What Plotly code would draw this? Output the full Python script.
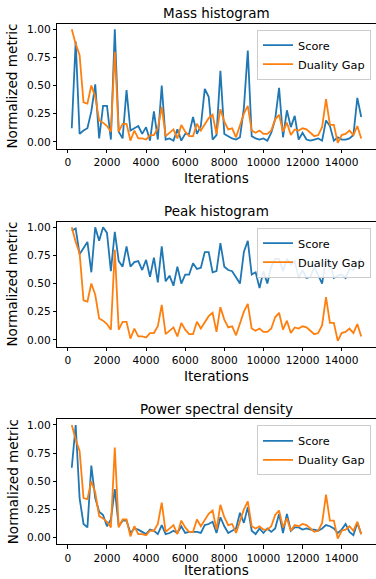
import plotly.graph_objects as go

# ---------------- data ----------------
iterations = list(range(200, 15001, 200))

duality_gap = [1.00, 0.87, 0.77, 0.35, 0.34, 0.50, 0.40, 0.19, 0.17, 0.14,
               0.09, 0.80, 0.09, 0.16, 0.16, 0.01, 0.10, 0.03, 0.03, 0.02,
               0.06, 0.06, 0.12, 0.31, 0.05, 0.08, 0.11, 0.03, 0.15, 0.09,
               0.05, 0.05, 0.16, 0.10, 0.16, 0.21, 0.24, 0.07, 0.29, 0.18,
               0.11, 0.12, 0.04, 0.15, 0.25, 0.32, 0.10, 0.08, 0.10, 0.07,
               0.07, 0.10, 0.20, 0.24, 0.09, 0.17, 0.06, 0.11, 0.10, 0.12,
               0.11, 0.08, 0.05, 0.06, 0.13, 0.38, 0.15, 0.15, -0.01, 0.06,
               0.07, 0.10, 0.06, 0.14, 0.03]

mass_score = [0.12, 0.89, 0.07, 0.10, 0.12, 0.27, 0.51, 0.03, 0.32, 0.32,
              0.02, 1.00, 0.09, 0.03, 0.46, 0.10, 0.12, 0.14, 0.07, 0.13,
              0.01, 0.27, 0.02, 0.50, 0.02, 0.03, 0.01, 0.11, 0.01, 0.07,
              0.07, 0.22, 0.07, 0.14, 0.47, 0.40, 0.02, 0.06, 0.63, 0.07,
              0.05, 0.03, 0.02, 0.04, 0.30, 0.81, 0.05, 0.03, 0.02, 0.03,
              0.01, 0.08, 0.20, 0.48, 0.04, 0.28, 0.13, 0.23, 0.02, 0.08,
              0.02, 0.01, 0.02, 0.03, 0.01, 0.19, 0.14, 0.01, 0.04, 0.02,
              0.02, 0.03, 0.06, 0.39, 0.22]

peak_score = [0.97, 0.99, 0.76, 0.82, 0.87, 0.60, 1.00, 0.88, 1.00, 0.95,
              0.61, 0.96, 0.70, 0.65, 0.83, 0.65, 0.69, 0.70, 0.62, 0.71,
              0.56, 0.73, 0.51, 0.83, 0.52, 0.57, 0.48, 0.65, 0.50, 0.58,
              0.58, 0.68, 0.63, 0.64, 0.78, 0.78, 0.60, 0.61, 0.86, 0.65,
              0.62, 0.61, 0.55, 0.50, 0.78, 0.88, 0.58, 0.60, 0.46, 0.61,
              0.50, 0.65, 0.72, 0.72, 0.61, 0.72, 0.67, 0.70, 0.55, 0.62,
              0.55, 0.56, 0.65, 0.57, 0.50, 0.72, 0.68, 0.55, 0.57, 0.58,
              0.55, 0.63, 0.62, 0.69, 0.72]

psd_score = [0.62, 1.00, 0.35, 0.12, 0.09, 0.64, 0.35, 0.23, 0.20, 0.10,
             0.16, 0.43, 0.10, 0.15, 0.15, 0.04, 0.08, 0.07, 0.05, 0.03,
             0.07, 0.06, 0.03, 0.11, 0.03, 0.04, 0.06, 0.04, 0.10, 0.04,
             0.05, 0.05, 0.05, 0.04, 0.11, 0.12, 0.14, 0.04, 0.18, 0.10,
             0.04, 0.06, 0.08, 0.22, 0.13, 0.27, 0.06, 0.03, 0.08, 0.04,
             0.08, 0.05, 0.08, 0.21, 0.04, 0.21, 0.06, 0.09, 0.09, 0.07,
             0.08, 0.07, 0.07, 0.06, 0.08, 0.11, 0.10, 0.08, 0.04, 0.07,
             0.12, 0.05, 0.02, 0.13, 0.03]

panel_titles = ["Mass histogram", "Peak histogram", "Power spectral density"]
score_series = [mass_score, peak_score, psd_score]
series_names = ["Score", "Duality Gap"]
y_tick_vals = [0.0, 0.25, 0.5, 0.75, 1.0]
y_tick_text = ["0.00", "0.25", "0.50", "0.75", "1.00"]
x_tick_vals = list(range(0, 14001, 2000))
x_tick_text = ["0", "2000", "4000", "6000", "8000", "10000", "12000", "14000"]
x_label = "Iterations"
y_label = "Normalized metric"

# ---------------- layout geometry (pixels) ----------------
W, H = 376, 579
ax_left, ax_right = 57.3, 375.7
ax_tops = [23.6, 221.6, 419.3]
ax_h = 125.0
xlabel_offsets = [29.0, 29.0, 26.0]
BLUE, ORANGE = "#1f77b4", "#ff7f0e"
FONT = "DejaVu Sans"


def pad_range(vals):
    lo, hi = min(vals), max(vals)
    m = 0.05 * (hi - lo)
    return [lo - m, hi + m]


xr = pad_range(iterations)

fig = go.Figure()
annotations = []
for k in range(3):
    sfx = "" if k == 0 else str(k + 1)
    xa, ya = "x" + sfx, "y" + sfx
    leg = "legend" if k == 0 else "legend" + str(k + 1)
    score = score_series[k]
    fig.add_trace(go.Scatter(x=iterations, y=score, mode="lines", name=series_names[0],
                             line=dict(color=BLUE, width=1.8), xaxis=xa, yaxis=ya,
                             legend=leg))
    fig.add_trace(go.Scatter(x=iterations, y=duality_gap, mode="lines", name=series_names[1],
                             line=dict(color=ORANGE, width=1.8), xaxis=xa, yaxis=ya,
                             legend=leg))
    top = ax_tops[k]
    bot = top + ax_h
    yr = pad_range(score + duality_gap)
    axis_common = dict(showline=True, mirror=True, linecolor="black", linewidth=1,
                       ticks="outside", ticklen=3.5, tickwidth=1, tickcolor="black",
                       showgrid=False, zeroline=False,
                       tickfont=dict(family=FONT, size=10.6, color="black"))
    fig.layout["xaxis" + sfx] = dict(domain=[ax_left / W, ax_right / W], anchor=ya,
                                     range=xr, tickmode="array", tickvals=x_tick_vals,
                                     ticktext=x_tick_text, **axis_common)
    fig.layout["yaxis" + sfx] = dict(domain=[1 - bot / H, 1 - top / H], anchor=xa,
                                     range=yr, tickmode="array", tickvals=y_tick_vals,
                                     ticktext=y_tick_text, **axis_common)
    fig.layout[leg] = dict(x=371 / W, xanchor="right", y=1 - (top + 6) / H, yanchor="top",
                           bgcolor="rgba(255,255,255,0.88)", bordercolor="#cccccc",
                           borderwidth=1, font=dict(family=FONT, size=11.3, color="black"),
                           tracegroupgap=0, itemwidth=30)
    cx = (ax_left + ax_right) / 2 / W
    annotations.append(dict(text=panel_titles[k], xref="paper", yref="paper", x=cx,
                            y=1 - (top - 10.5) / H, xanchor="center", yanchor="middle",
                            showarrow=False, font=dict(family=FONT, size=13.5, color="black")))
    annotations.append(dict(text=x_label, xref="paper", yref="paper", x=cx,
                            y=1 - (bot + xlabel_offsets[k]) / H, xanchor="center",
                            yanchor="middle", showarrow=False,
                            font=dict(family=FONT, size=13.6, color="black")))
    annotations.append(dict(text=y_label, xref="paper", yref="paper", x=12.5 / W,
                            y=1 - (top + ax_h / 2) / H, xanchor="center", yanchor="middle",
                            textangle=-90, showarrow=False,
                            font=dict(family=FONT, size=13.6, color="black")))

fig.update_layout(width=W, height=H, margin=dict(l=0, r=0, t=0, b=0),
                  paper_bgcolor="white", plot_bgcolor="white",
                  annotations=annotations, showlegend=True)

fig.write_html("out.html")
